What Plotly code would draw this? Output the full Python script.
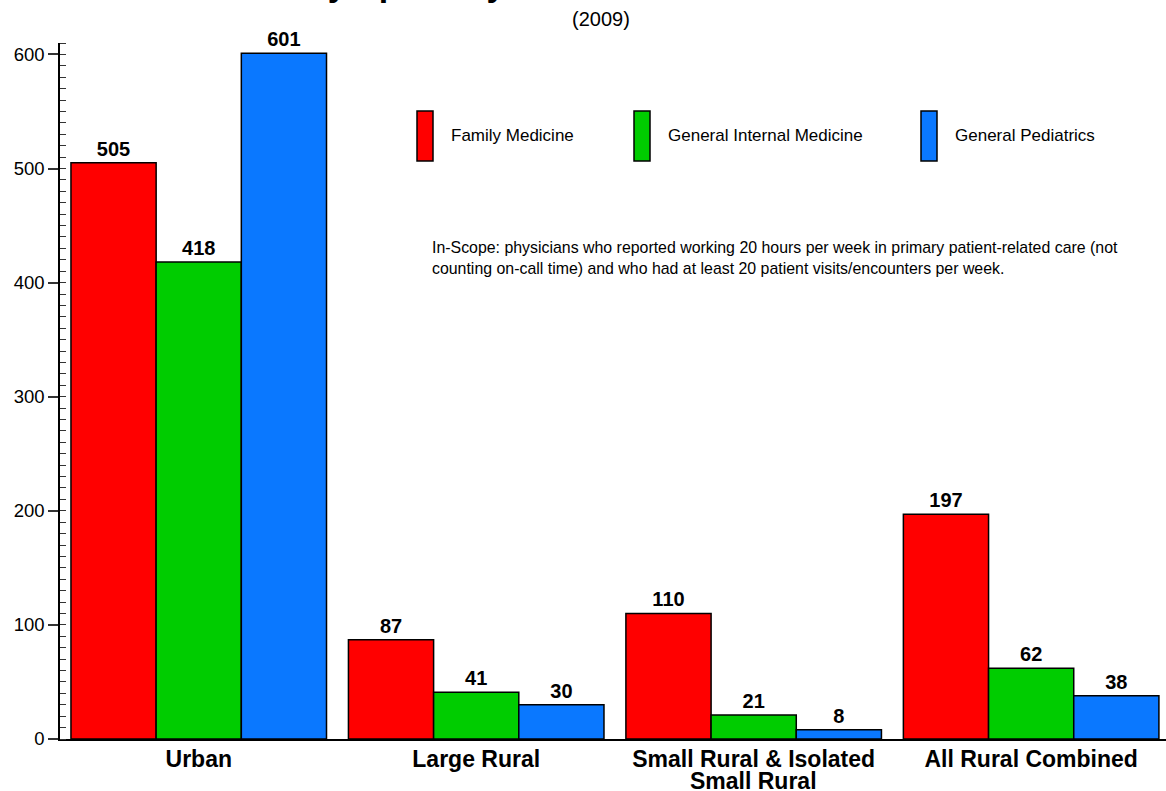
import plotly.graph_objects as go

categories = ["Urban", "Large Rural", "Small Rural & Isolated<br>Small Rural", "All Rural Combined"]
family_medicine = [505, 87, 110, 197]
general_internal_medicine = [418, 41, 21, 62]
general_pediatrics = [601, 30, 8, 38]
series_names = ["Family Medicine", "General Internal Medicine", "General Pediatrics"]
series_colors = ["#FF0000", "#00CC00", "#0A78FF"]
y_ticks = [0, 100, 200, 300, 400, 500, 600]
note_text = ("In-Scope: physicians who reported working 20 hours per week in primary patient-related care (not<br>"
             "counting on-call time) and who had at least 20 patient visits/encounters per week.")

FONT = "Liberation Sans, Arial, Helvetica, sans-serif"
W, H = 1166, 791
ML, MR, MT, MB = 60, 0, 43, 52
PW, PH = W - ML - MR, H - MT - MB


def px_x(x):
    return (x - ML) / PW


def px_y(y):
    return (H - MB - y) / PH


fig = go.Figure()
for name, vals, col in zip(series_names, [family_medicine, general_internal_medicine, general_pediatrics], series_colors):
    fig.add_trace(go.Bar(
        x=categories, y=vals, name=name,
        marker=dict(color=col, line=dict(color="black", width=1.5)),
        text=[str(v) for v in vals], textposition="outside",
        textfont=dict(family=FONT, size=20, color="black", weight="bold"),
        cliponaxis=False, showlegend=False,
    ))

# category labels: first line as tick text, extra lines as tighter-spaced annotations
cat_font = dict(family=FONT, size=23, color="black", weight="bold")
first_lines = [c.split("<br>")[0] for c in categories]
for c in categories:
    extra = c.split("<br>")[1:]
    for i, line in enumerate(extra):
        fig.add_annotation(xref="x", yref="paper", x=c, y=px_y(781 + 22 * i),
                           xanchor="center", yanchor="middle", text=line,
                           showarrow=False, font=cat_font)

# legend drawn manually (tall swatches)
legend_x = [417, 634, 921]
for lx, name, col in zip(legend_x, series_names, series_colors):
    fig.add_shape(type="rect", xref="paper", yref="paper",
                  x0=px_x(lx), x1=px_x(lx + 16), y0=px_y(161), y1=px_y(111),
                  fillcolor=col, line=dict(color="black", width=1.5))
    fig.add_annotation(xref="paper", yref="paper", x=px_x(lx + 32), y=px_y(136),
                       xanchor="left", yanchor="middle", text=name, showarrow=False,
                       font=dict(family=FONT, size=17, color="black"))

fig.add_annotation(xref="paper", yref="paper", x=px_x(430), y=px_y(258),
                   xanchor="left", yanchor="middle", align="left", text=note_text,
                   showarrow=False, font=dict(family=FONT, size=15.9, color="black"))

# subtitle
fig.add_annotation(xref="paper", yref="paper", x=px_x(601), y=px_y(19),
                   xanchor="center", yanchor="middle", text="(2009)", showarrow=False,
                   font=dict(family=FONT, size=20, color="black"))

# cropped title (only descenders visible)
fig.add_annotation(xref="paper", yref="paper", x=px_x(306), y=px_y(4),
                   xanchor="left", yanchor="bottom", text="by Specialty", showarrow=False,
                   borderpad=0, font=dict(family=FONT, size=34, color="black", weight="bold"))

fig.update_layout(
    width=W, height=H,
    margin=dict(l=ML, r=MR, t=MT, b=MB),
    paper_bgcolor="white", plot_bgcolor="white",
    barmode="group", bargap=0.079, bargroupgap=0,
    font=dict(family=FONT, color="black"),
    xaxis=dict(range=[-0.5, 3.486], showline=True, linecolor="black", linewidth=2,
               tickmode="array", tickvals=categories, ticktext=first_lines,
               ticks="", showgrid=False, zeroline=False, automargin=False,
               ticklabelstandoff=-2, tickfont=cat_font),
    yaxis=dict(range=[0, 610], tickvals=y_ticks, showline=True, linecolor="black", linewidth=1.5,
               ticks="outside", ticklen=10, tickwidth=1.5, tickcolor="#333",
               minor=dict(dtick=10, ticks="inside", ticklen=6, tickwidth=1.2, tickcolor="#333"),
               showgrid=False, zeroline=False, automargin=False,
               tickfont=dict(family=FONT, size=18.5, color="black")),
    yaxis2=dict(overlaying="y", side="left", range=[0, 610], tickvals=y_ticks,
                ticks="inside", ticklen=10, tickwidth=1.5, tickcolor="#333", automargin=False,
                showticklabels=False, showgrid=False, zeroline=False, showline=False),
)

fig.write_html("out.html", config={"displayModeBar": False},
               post_script="document.body.style.margin='0px';document.body.style.overflow='hidden';")
